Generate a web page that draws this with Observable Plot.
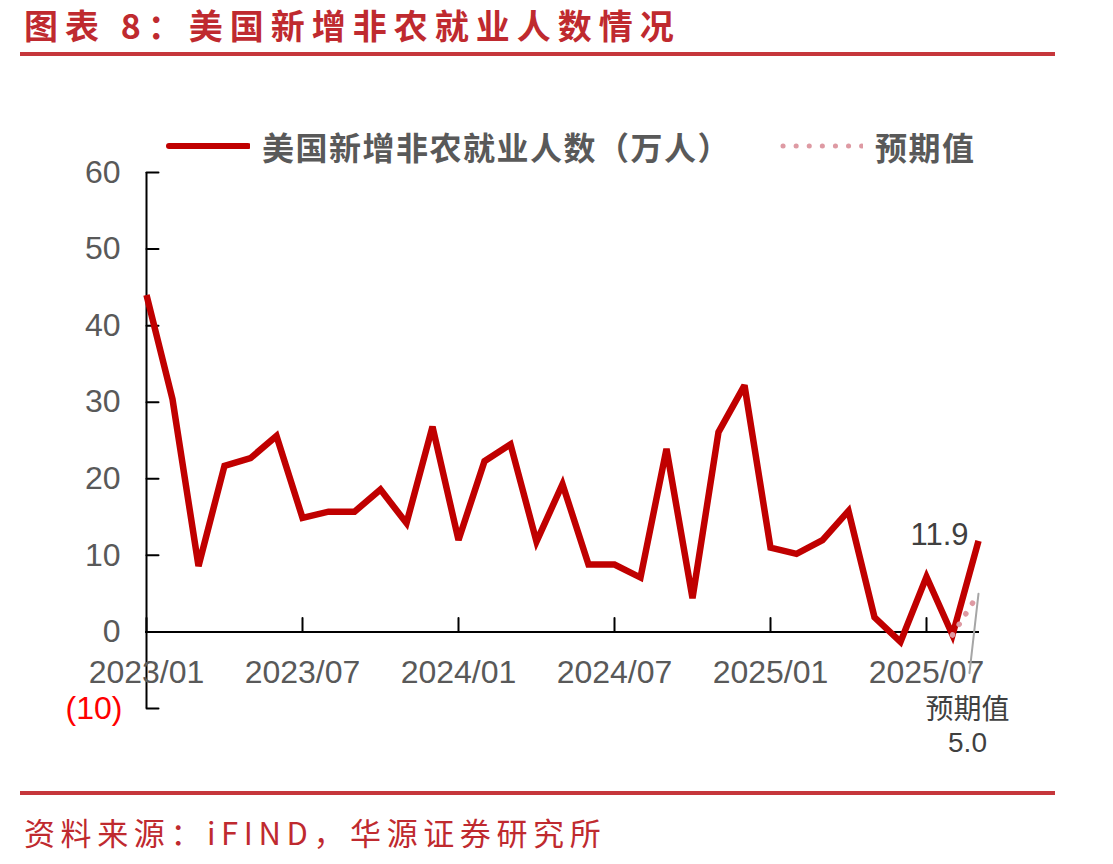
<!DOCTYPE html>
<html>
<head>
<meta charset="utf-8">
<script src="https://cdn.jsdelivr.net/npm/d3@7"></script>
<script src="https://cdn.jsdelivr.net/npm/@observablehq/plot@0.6"></script>
<style>
  html, body { margin: 0; padding: 0; background: #fff; }
  #page { position: relative; width: 1113px; height: 864px; overflow: hidden; background: #fff; }
  #title { position: absolute; left: 24px; top: 0px; font: 700 34px "Noto Sans CJK SC", sans-serif; line-height: normal; letter-spacing: 7px; color: #BF2A2F; white-space: nowrap; }
  #rule1 { position: absolute; left: 20px; top: 52px; width: 1035px; height: 4px; background: #C6363B; }
  #rule2 { position: absolute; left: 20px; top: 791px; width: 1035px; height: 4px; background: #C6363B; }
  #footer { position: absolute; left: 24px; top: 809px; font: 400 31px "Noto Sans CJK SC", sans-serif; letter-spacing: 5.6px; color: #BF2A2F; white-space: nowrap; }
  #legend { position: absolute; z-index: 2; left: 166px; top: 124px; height: 44px; display: flex; align-items: center; font: 700 32px "Noto Sans CJK SC", sans-serif; letter-spacing: 1.5px; color: #595959; white-space: nowrap; }
  #legend svg { display: block; }
  #chart { position: absolute; z-index: 1; left: 0; top: 100px; }
</style>
</head>
<body>
<div id="page">
  <div id="title">图表 8：美国新增非农就业人数情况</div>
  <div id="rule1"></div>
  <div id="chart"></div>
  <div id="legend"></div>
  <div id="rule2"></div>
  <div id="footer">资料来源：iFIND，华源证券研究所</div>
</div>
<script>
// ---- data ----
const monthLabels = [
  "2023/01","2023/02","2023/03","2023/04","2023/05","2023/06","2023/07","2023/08","2023/09","2023/10","2023/11","2023/12",
  "2024/01","2024/02","2024/03","2024/04","2024/05","2024/06","2024/07","2024/08","2024/09","2024/10","2024/11","2024/12",
  "2025/01","2025/02","2025/03","2025/04","2025/05","2025/06","2025/07","2025/08","2025/09"
];
const payrolls = [
  44.0, 30.4, 8.6, 21.7, 22.7, 25.6, 14.9, 15.7, 15.7, 18.6, 14.2, 26.8,
  12.0, 22.3, 24.5, 11.8, 19.3, 8.8, 8.8, 7.1, 23.9, 4.4, 26.1, 32.2,
  11.0, 10.2, 12.0, 15.8, 1.9, -1.3, 7.2, -0.4, 11.9
];
const expectedMonths = ["2025/08", "2025/09"];
const expectedValues = [-0.4, 5.0];
const xTickLabels = ["2023/01","2023/07","2024/01","2024/07","2025/01","2025/07"];
const yTickValues = [0, 10, 20, 30, 40, 50, 60];
const yNegTickValues = [-10];
const yNegTickLabels = ["(10)"];
const seriesName = "美国新增非农就业人数（万人）";
const expectedName = "预期值";

// ---- derived tables ----
const actual = monthLabels.map((m, i) => ({i, m, v: payrolls[i]}));
const expected = expectedMonths.map((m, k) => ({i: monthLabels.indexOf(m), m, v: expectedValues[k]}));
const xTicks = xTickLabels.map(l => ({i: monthLabels.indexOf(l), l}));
const lastActual = actual[actual.length - 1];
const lastExpected = expected[expected.length - 1];

const RED = "#C00000", PINK = "#DE9AA3", GRAY = "#595959", DARK = "#404040";
const lineShape = {draw(context, l) { context.moveTo(0, 0); context.lineTo(0, -l); }};
const FONT = "'Liberation Sans', Arial, 'Noto Sans CJK SC', sans-serif";

const chart = Plot.plot({
  width: 1113,
  height: 680,
  marginTop: 72,
  marginBottom: 72,
  marginLeft: 146,
  marginRight: 135,
  x: {domain: [0, monthLabels.length - 1], axis: null},
  y: {domain: [-10, 60], axis: null},
  style: {fontFamily: FONT, overflow: "visible", background: "transparent"},
  marks: [
    Plot.ruleX([0], {y1: -10, y2: 60, stroke: "black", strokeWidth: 2}),
    Plot.ruleY([0], {x1: 0, x2: monthLabels.length - 1, stroke: "black", strokeWidth: 2, strokeLinecap: "square"}),
    Plot.vector([...yNegTickValues, ...yTickValues], {x: 0, y: d => d, length: 12, rotate: 90, anchor: "start", shape: lineShape, stroke: "black", strokeWidth: 2}),
    Plot.vector(xTicks, {x: "i", y: 0, length: 14, rotate: 0, anchor: "start", shape: lineShape, stroke: "black", strokeWidth: 2}),
    Plot.text(yTickValues, {x: 0, y: d => d, text: d => String(d), dx: -26, textAnchor: "end", fontSize: 32, fill: GRAY}),
    Plot.text(yNegTickValues, {x: 0, y: d => d, text: (d, k) => yNegTickLabels[k], dx: -24, textAnchor: "end", fontSize: 32, fill: "#FF0000"}),
    Plot.text(xTicks, {x: "i", y: 0, text: "l", dy: 41, fontSize: 32, fill: GRAY}),
    Plot.line(actual, {x: "i", y: "v", stroke: RED, strokeWidth: 6.5, strokeLinejoin: "miter", strokeMiterlimit: 3, strokeLinecap: "butt"}),
    Plot.line(expected, {x: "i", y: "v", stroke: PINK, strokeWidth: 5.5, strokeDasharray: "0.1 12.4", strokeLinecap: "round"}),
    Plot.text([lastActual], {x: "i", y: "v", text: d => d.v.toFixed(1), dx: -10, dy: -6, textAnchor: "end", fontSize: 31, fill: DARK}),
    Plot.vector([lastExpected], {x: "i", y: "v", length: 80, rotate: 186.5, anchor: "start", shape: lineShape, stroke: "#A6A6A6", strokeWidth: 2}),
    Plot.text([lastExpected], {x: "i", y: "v", text: d => expectedName + "\n" + d.v.toFixed(1), dx: -11, dy: 131, lineHeight: 1.2, fontSize: 28, fill: DARK})
  ]
});
document.getElementById("chart").appendChild(chart);

// ---- legend ----
const legend = d3.select("#legend");
const sw1 = legend.append("svg").attr("width", 84).attr("height", 12);
sw1.append("line").attr("x1", 3).attr("x2", 82).attr("y1", 6).attr("y2", 6)
  .attr("stroke", RED).attr("stroke-width", 6).attr("stroke-linecap", "round");
legend.append("span").style("margin-left", "12px").text(seriesName);
const sw2 = legend.append("svg").attr("width", 84).attr("height", 12).style("margin-left", "48px");
sw2.append("line").attr("x1", 4).attr("x2", 84).attr("y1", 6).attr("y2", 6)
  .attr("stroke", PINK).attr("stroke-width", 5).attr("stroke-dasharray", "0.1 13").attr("stroke-linecap", "round");
legend.append("span").style("margin-left", "12px").text(expectedName);
</script>
</body>
</html>
